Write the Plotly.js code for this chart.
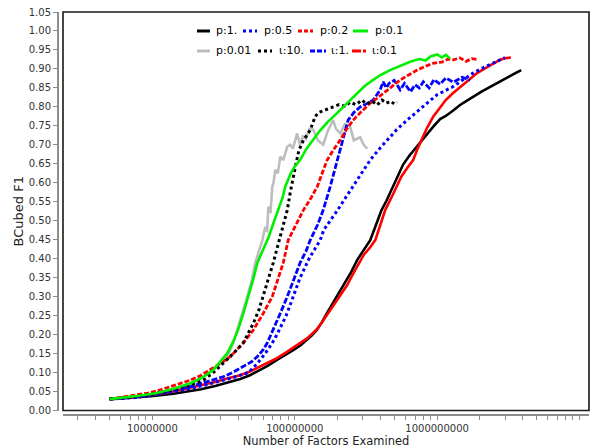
<!DOCTYPE html>
<html>
<head>
<meta charset="utf-8">
<script src="https://cdn.plot.ly/plotly-3.0.1.min.js"></script>
<style>html,body{margin:0;padding:0;background:#fff;}#chart{width:602px;height:448px;}</style>
</head>
<body>
<div id="chart"></div>
<script>
// ---------------- data ----------------
const seriesNames = ["p:1.", "p:0.5", "p:0.2", "p:0.1", "p:0.01", "ι:10.", "ι:1.", "ι:0.1"];

const p1X = [5.0e6, 7.4e6, 1.02e7, 1.4e7, 1.74e7, 2.2e7, 2.8e7, 3.4e7, 4.14e7, 4.8e7, 5.4e7, 6.4e7, 7.5e7, 8.6e7, 9.75e7, 1.1e8, 1.22e8, 1.32e8, 1.43e8, 1.55e8, 1.68e8, 1.82e8, 1.98e8, 2.15e8, 2.33e8, 2.5e8, 2.75e8, 3.05e8, 3.39e8, 3.68e8, 4.07e8, 4.4e8, 4.68e8, 5.0e8, 5.3e8, 5.77e8, 6.4e8, 7.0e8, 7.6e8, 8.4e8, 9.4e8, 1.05e9, 1.15e9, 1.29e9, 1.45e9, 1.6e9, 1.79e9, 2.05e9, 2.36e9, 2.77e9, 3.2e9, 3.6e9, 3.9e9];
const p1Y = [0.030, 0.034, 0.038, 0.044, 0.050, 0.056, 0.065, 0.074, 0.083, 0.092, 0.102, 0.117, 0.133, 0.146, 0.159, 0.172, 0.186, 0.198, 0.212, 0.232, 0.256, 0.278, 0.300, 0.322, 0.343, 0.366, 0.397, 0.424, 0.449, 0.484, 0.528, 0.552, 0.573, 0.597, 0.616, 0.648, 0.672, 0.690, 0.705, 0.727, 0.748, 0.768, 0.776, 0.790, 0.805, 0.815, 0.827, 0.840, 0.853, 0.868, 0.880, 0.890, 0.897];

const p05X = [5.0e6, 7.5e6, 1.08e7, 1.5e7, 1.85e7, 2.4e7, 3.0e7, 3.7e7, 4.72e7, 5.4e7, 6.2e7, 6.9e7, 7.5e7, 8.1e7, 8.7e7, 9.2e7, 9.75e7, 1.03e8, 1.09e8, 1.17e8, 1.26e8, 1.38e8, 1.51e8, 1.6e8, 1.78e8, 2.0e8, 2.25e8, 2.57e8, 2.95e8, 3.39e8, 3.9e8, 4.46e8, 5.2e8, 6.16e8, 7.2e8, 8.51e8, 1.0e9, 1.15e9, 1.29e9, 1.5e9, 1.79e9, 2.1e9, 2.47e9, 2.75e9, 3.0e9];
const p05Y = [0.030, 0.034, 0.042, 0.051, 0.058, 0.068, 0.077, 0.087, 0.100, 0.122, 0.150, 0.176, 0.200, 0.225, 0.250, 0.274, 0.300, 0.326, 0.350, 0.374, 0.400, 0.425, 0.449, 0.476, 0.500, 0.528, 0.558, 0.590, 0.626, 0.660, 0.688, 0.713, 0.740, 0.765, 0.788, 0.810, 0.832, 0.843, 0.853, 0.870, 0.889, 0.903, 0.915, 0.923, 0.930];

const p02X = [5.0e6, 7.0e6, 9.3e6, 1.15e7, 1.34e7, 1.6e7, 1.85e7, 2.2e7, 2.55e7, 3.0e7, 3.53e7, 4.35e7, 5.12e7, 6.01e7, 6.95e7, 7.6e7, 8.3e7, 9.0e7, 9.75e7, 1.06e8, 1.15e8, 1.3e8, 1.44e8, 1.56e8, 1.69e8, 1.88e8, 2.09e8, 2.3e8, 2.57e8, 2.95e8, 3.39e8, 3.8e8, 4.18e8, 4.8e8, 5.5e8, 6.3e8, 7.24e8, 8.2e8, 9.38e8, 1.08e9, 1.2e9, 1.3e9, 1.45e9, 1.6e9, 1.75e9, 1.9e9];
const p02Y = [0.030, 0.038, 0.046, 0.055, 0.063, 0.071, 0.080, 0.093, 0.107, 0.124, 0.142, 0.178, 0.212, 0.256, 0.300, 0.344, 0.389, 0.449, 0.476, 0.500, 0.528, 0.560, 0.590, 0.626, 0.660, 0.688, 0.713, 0.740, 0.765, 0.788, 0.810, 0.823, 0.836, 0.855, 0.871, 0.884, 0.897, 0.906, 0.915, 0.918, 0.926, 0.924, 0.929, 0.920, 0.927, 0.925];

const p01X = [5.0e6, 6.0e6, 8.0e6, 1.08e7, 1.4e7, 1.85e7, 2.3e7, 2.68e7, 3.0e7, 3.36e7, 3.7e7, 3.99e7, 4.35e7, 4.72e7, 5.1e7, 5.46e7, 6.0e7, 6.6e7, 7.1e7, 7.66e7, 8.2e7, 8.58e7, 9.4e7, 1.0e8, 1.09e8, 1.2e8, 1.35e8, 1.5e8, 1.7e8, 2.0e8, 2.2e8, 2.45e8, 2.8e8, 3.1e8, 3.56e8, 4.0e8, 4.68e8, 5.5e8, 6.46e8, 7.5e8, 8.3e8, 9.0e8, 1.0e9, 1.08e9, 1.15e9, 1.23e9];
const p01Y = [0.030, 0.033, 0.039, 0.046, 0.057, 0.072, 0.089, 0.107, 0.128, 0.151, 0.182, 0.212, 0.256, 0.300, 0.345, 0.389, 0.425, 0.460, 0.495, 0.528, 0.560, 0.590, 0.626, 0.643, 0.660, 0.688, 0.713, 0.737, 0.760, 0.784, 0.800, 0.818, 0.840, 0.855, 0.871, 0.884, 0.897, 0.907, 0.919, 0.926, 0.922, 0.933, 0.938, 0.930, 0.937, 0.928];

const p001X = [5.0e6, 7.0e6, 1.0e7, 1.3e7, 1.6e7, 2.0e7, 2.3e7, 2.7e7, 3.0e7, 3.36e7, 3.7e7, 3.95e7, 4.3e7, 4.64e7, 5.0e7, 5.28e7, 5.6e7, 5.92e7, 6.21e7, 6.4e7, 6.52e7, 6.75e7, 6.95e7, 7.1e7, 7.29e7, 7.6e7, 7.91e7, 8.3e7, 8.86e7, 9.3e7, 9.7e7, 1.04e8, 1.09e8, 1.14e8, 1.2e8, 1.27e8, 1.35e8, 1.45e8, 1.585e8, 1.7e8, 1.86e8, 1.95e8, 2.09e8, 2.25e8, 2.45e8, 2.6e8, 2.88e8, 3.05e8, 3.23e8];
const p001Y = [0.030, 0.034, 0.040, 0.048, 0.058, 0.075, 0.090, 0.108, 0.125, 0.142, 0.178, 0.212, 0.255, 0.300, 0.345, 0.389, 0.420, 0.449, 0.484, 0.470, 0.537, 0.520, 0.590, 0.600, 0.634, 0.625, 0.669, 0.660, 0.695, 0.700, 0.690, 0.730, 0.700, 0.722, 0.715, 0.742, 0.740, 0.712, 0.700, 0.735, 0.765, 0.742, 0.730, 0.755, 0.748, 0.712, 0.720, 0.700, 0.690];

const i10X = [5.0e6, 7.4e6, 1.0e7, 1.4e7, 1.8e7, 2.28e7, 2.7e7, 3.15e7, 3.7e7, 4.35e7, 5.12e7, 5.6e7, 6.01e7, 6.5e7, 7.06e7, 7.5e7, 7.91e7, 8.4e7, 8.86e7, 9.3e7, 9.75e7, 1.02e8, 1.07e8, 1.15e8, 1.285e8, 1.39e8, 1.47e8, 1.585e8, 1.7e8, 1.86e8, 2.05e8, 2.25e8, 2.45e8, 2.7e8, 2.95e8, 3.2e8, 3.5e8, 3.8e8, 4.1e8, 4.4e8, 4.7e8, 5.0e8, 5.24e8];
const i10Y = [0.030, 0.036, 0.043, 0.054, 0.066, 0.080, 0.101, 0.125, 0.150, 0.178, 0.230, 0.265, 0.300, 0.345, 0.389, 0.425, 0.460, 0.495, 0.528, 0.575, 0.616, 0.650, 0.686, 0.712, 0.739, 0.774, 0.785, 0.790, 0.796, 0.800, 0.806, 0.802, 0.812, 0.806, 0.818, 0.808, 0.815, 0.805, 0.818, 0.810, 0.815, 0.808, 0.812];

const i1X = [5.0e6, 7.5e6, 1.08e7, 1.4e7, 1.85e7, 2.4e7, 3.15e7, 3.7e7, 4.35e7, 5.0e7, 5.46e7, 6.0e7, 6.41e7, 7.06e7, 7.91e7, 8.86e7, 9.75e7, 1.09e8, 1.2e8, 1.285e8, 1.45e8, 1.585e8, 1.775e8, 1.99e8, 2.19e8, 2.37e8, 2.6e8, 2.88e8, 3.2e8, 3.56e8, 3.98e8, 4.18e8, 4.4e8, 4.6e8, 5.0e8, 5.5e8, 5.9e8, 6.5e8, 7.0e8, 7.5e8, 8.0e8, 8.8e8, 9.5e8, 1.05e9, 1.15e9, 1.3e9, 1.5e9, 1.7e9];
const i1Y = [0.030, 0.035, 0.046, 0.053, 0.063, 0.075, 0.089, 0.101, 0.115, 0.129, 0.142, 0.160, 0.178, 0.212, 0.256, 0.300, 0.343, 0.389, 0.420, 0.449, 0.490, 0.528, 0.590, 0.660, 0.713, 0.765, 0.785, 0.800, 0.808, 0.818, 0.845, 0.866, 0.850, 0.862, 0.870, 0.845, 0.862, 0.840, 0.858, 0.850, 0.866, 0.850, 0.872, 0.860, 0.876, 0.865, 0.878, 0.870];

const i01X = [5.0e6, 7.4e6, 1.02e7, 1.4e7, 1.74e7, 2.2e7, 2.8e7, 3.4e7, 4.14e7, 4.8e7, 5.4e7, 6.4e7, 7.5e7, 8.6e7, 9.75e7, 1.1e8, 1.22e8, 1.32e8, 1.43e8, 1.55e8, 1.68e8, 1.82e8, 1.98e8, 2.15e8, 2.33e8, 2.5e8, 2.75e8, 3.05e8, 3.39e8, 3.68e8, 4.0e8, 4.32e8, 4.95e8, 5.6e8, 6.2e8, 6.79e8, 7.3e8, 7.8e8, 8.5e8, 9.38e8, 1.05e9, 1.15e9, 1.29e9, 1.45e9, 1.65e9, 1.91e9, 2.2e9, 2.5e9, 2.77e9, 3.0e9, 3.3e9];
const i01Y = [0.030, 0.035, 0.042, 0.050, 0.058, 0.066, 0.076, 0.085, 0.093, 0.102, 0.112, 0.125, 0.138, 0.152, 0.165, 0.178, 0.190, 0.202, 0.214, 0.232, 0.252, 0.270, 0.290, 0.310, 0.330, 0.352, 0.380, 0.410, 0.430, 0.449, 0.490, 0.528, 0.573, 0.616, 0.640, 0.660, 0.690, 0.713, 0.745, 0.774, 0.800, 0.818, 0.836, 0.852, 0.870, 0.889, 0.903, 0.915, 0.924, 0.928, 0.930];

const yTickVals = [0, 0.05, 0.10, 0.15, 0.20, 0.25, 0.30, 0.35, 0.40, 0.45, 0.50, 0.55, 0.60, 0.65, 0.70, 0.75, 0.80, 0.85, 0.90, 0.95, 1.00, 1.05];
const xTickVals = [1e7, 1e8, 1e9, 1e10];
const xTickText = ["10000000", "100000000", "1000000000", "10000000000"];
const xTitle = "Number of Factors Examined";
const yTitle = "BCubed F1";

// ---------------- styling ----------------
const FONT = "DejaVu Sans, Verdana, sans-serif";
const styles = [
  {color: "#000000", dash: "solid", width: 2.6},
  {color: "#0000ff", dash: "dot", width: 3},
  {color: "#ff0000", dash: "5px,2px", width: 2.8},
  {color: "#00ee00", dash: "solid", width: 2.6},
  {color: "#bdbdbd", dash: "solid", width: 2.6},
  {color: "#000000", dash: "dot", width: 3},
  {color: "#0000ff", dash: "6px,2px", width: 2.8},
  {color: "#ff0000", dash: "solid", width: 2.6}
];
const xs = [p1X, p05X, p02X, p01X, p001X, i10X, i1X, i01X];
const ys = [p1Y, p05Y, p02Y, p01Y, p001Y, i10Y, i1Y, i01Y];
const drawOrder = [4, 0, 7, 1, 6, 2, 5, 3];

const traces = drawOrder.map(function (k) {
  return {
    type: "scatter", mode: "lines", name: seriesNames[k],
    x: xs[k], y: ys[k], showlegend: false,
    line: {color: styles[k].color, dash: styles[k].dash, width: styles[k].width}
  };
});

// minor x ticks (2..9 x each decade)
const minorVals = [];
[1e6, 1e7, 1e8, 1e9].forEach(function (d) { for (let m = 2; m <= 9; m++) minorVals.push(m * d); });

// layout geometry (pixels)
const W = 602, H = 448;
const M = {l: 57, r: 13, t: 12, b: 34};
const PW = W - M.l - M.r, PH = H - M.t - M.b;
const frameLeft = 63, frameBottom = 410.5;
function px(xp) { return (xp - M.l) / PW; }
function py(yp) { return (H - M.b - yp) / PH; }

// custom legend (two rows)
const legendPos = [
  {x0: 197, x1: 210, tx: 214, y: 31},
  {x0: 243, x1: 257, tx: 262, y: 31},
  {x0: 298, x1: 313, tx: 318, y: 31},
  {x0: 353, x1: 368, tx: 373, y: 31},
  {x0: 197, x1: 210, tx: 214, y: 51},
  {x0: 258, x1: 272, tx: 277, y: 51},
  {x0: 310, x1: 326, tx: 329, y: 51},
  {x0: 352, x1: 368, tx: 370, y: 51}
];
const legendDash = ["solid", "dot", "4px,2px", "solid", "solid", "dot", "5px,2px", "9px,2px,3px,2px"];

const shapes = [{
  type: "rect", xref: "x domain", yref: "y domain", x0: 0, x1: 1, y0: 0, y1: 1,
  line: {color: "#1a1a1a", width: 1.6}, layer: "above"
}];
const annotations = [];
seriesNames.forEach(function (name, k) {
  const L = legendPos[k];
  shapes.push({
    type: "line", xref: "paper", yref: "paper",
    x0: px(L.x0), x1: px(L.x1), y0: py(L.y), y1: py(L.y),
    line: {color: styles[k].color, width: 3, dash: legendDash[k]}
  });
  annotations.push({
    xref: "paper", yref: "paper", x: px(L.tx), y: py(L.y),
    xanchor: "left", yanchor: "middle", showarrow: false, text: name,
    font: {family: FONT, size: 11, color: "#000"}
  });
});

const layout = {
  width: W, height: H,
  margin: M,
  paper_bgcolor: "#fff", plot_bgcolor: "#fff",
  showlegend: false,
  xaxis: {
    type: "log", range: [6.372, 10.067],
    domain: [(frameLeft - M.l) / PW, 1],
    anchor: "free", position: 0,
    showline: true, linecolor: "#8c8c8c", linewidth: 1.5,
    ticks: "outside", ticklen: 4, tickcolor: "#8c8c8c", tickwidth: 1,
    tickmode: "array", tickvals: xTickVals, ticktext: xTickText,
    minor: {tickmode: "array", tickvals: minorVals, ticks: "outside", ticklen: 4, tickcolor: "#8c8c8c", tickwidth: 1, showgrid: false},
    showgrid: false, zeroline: false,
    tickfont: {family: FONT, size: 10, color: "#333"},
    title: {text: xTitle, font: {family: FONT, size: 11.5, color: "#222"}, standoff: 10},
    automargin: false
  },
  yaxis: {
    range: [0, 1.05],
    domain: [(H - M.b - frameBottom) / PH, 1],
    anchor: "free", position: 0,
    showline: true, linecolor: "#8c8c8c", linewidth: 1.5,
    ticks: "outside", ticklen: 4, tickcolor: "#8c8c8c", tickwidth: 1,
    tickmode: "array", tickvals: yTickVals, tickformat: ".2f",
    showgrid: false, zeroline: false,
    tickfont: {family: FONT, size: 10, color: "#333"},
    title: {text: yTitle, font: {family: FONT, size: 13, color: "#222"}, standoff: 0},
    automargin: false
  },
  shapes: shapes,
  annotations: annotations
};

Plotly.newPlot("chart", traces, layout, {displayModeBar: false, staticPlot: true});
</script>
</body>
</html>
